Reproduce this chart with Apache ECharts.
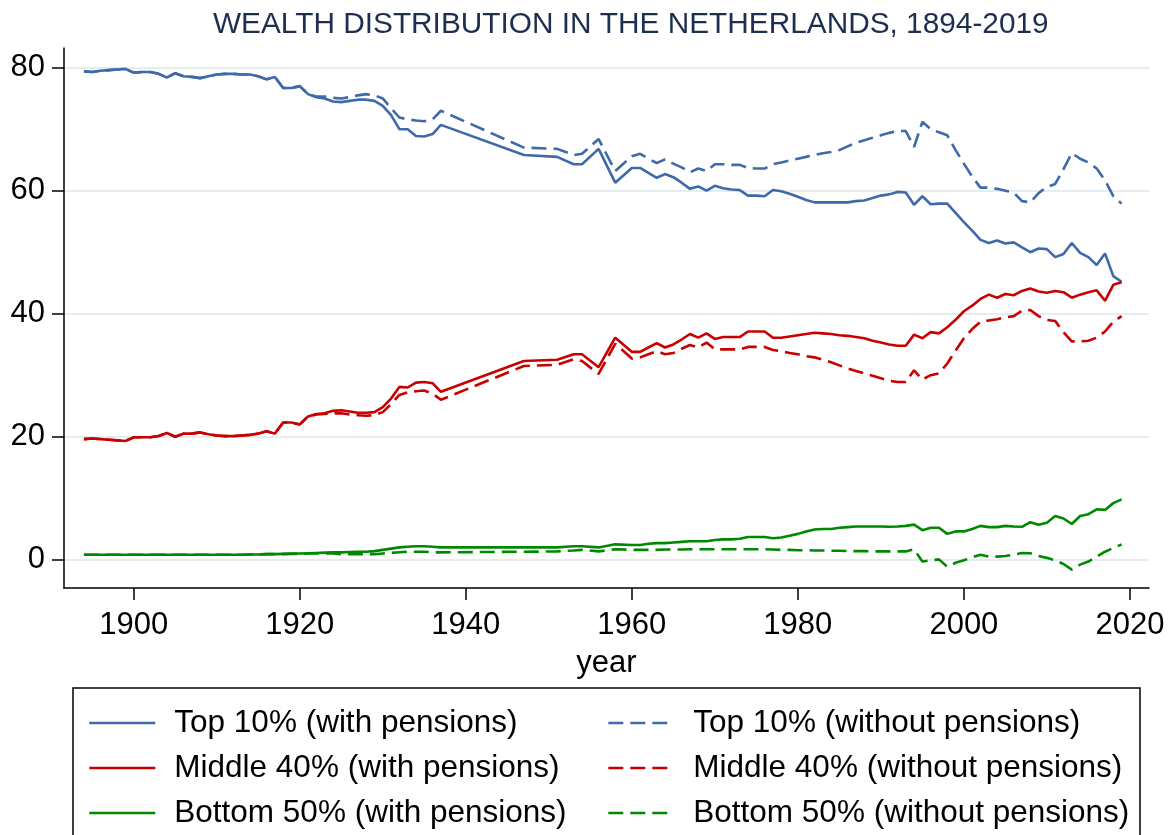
<!DOCTYPE html>
<html>
<head>
<meta charset="utf-8">
<title>Wealth distribution in the Netherlands</title>
<script src="https://cdn.jsdelivr.net/npm/echarts@6/dist/echarts.min.js"></script>
<style>
  html, body { margin: 0; padding: 0; background: #fff; }
  #main { width: 1172px; height: 835px; }
</style>
</head>
<body>
<div id="main"></div>
<script>
// years with observations (gap 1937-1947 is drawn as a straight line)
const years = [
  1894,1895,1896,1897,1898,1899,1900,1901,1902,1903,
  1904,1905,1906,1907,1908,1909,1910,1911,1912,1913,
  1914,1915,1916,1917,1918,1919,1920,1921,1922,1923,
  1924,1925,1926,1927,1928,1929,1930,1931,1932,1933,
  1934,1935,1936,1937,
  1947,1951,1953,1954,1956,1958,
  1960,1961,1962,1963,1964,1965,1966,1967,1968,1969,
  1970,1971,1972,1973,1974,1975,1976,1977,1978,1979,
  1980,1981,1982,1983,1984,1985,1986,1987,1988,1989,
  1990,1991,1992,1993,1994,1995,1996,1997,1998,1999,
  2000,2001,2002,2003,2004,2005,2006,2007,2008,2009,
  2010,2011,2012,2013,2014,2015,2016,2017,2018,2019
]

const top10With = [
  79.4,79.3,79.5,79.6,79.7,79.8,79.2,79.3,79.3,79.0,
  78.4,79.1,78.6,78.5,78.3,78.6,78.9,79.0,79.0,78.9,
  78.9,78.6,78.1,78.5,76.7,76.7,77.0,75.7,75.2,75.0,
  74.5,74.4,74.6,74.8,74.8,74.6,73.8,72.3,70.0,70.0,
  68.9,68.8,69.2,70.7,
  65.8,65.5,64.3,64.3,66.8,61.3,
  63.7,63.7,62.9,62.1,62.7,62.2,61.3,60.3,60.7,60.0,
  60.8,60.4,60.2,60.1,59.2,59.2,59.1,60.1,59.9,59.5,
  59.0,58.5,58.1,58.1,58.1,58.1,58.1,58.3,58.4,58.8,
  59.2,59.4,59.8,59.7,57.7,59.1,57.8,57.9,57.9,56.4,
  54.9,53.5,52.0,51.5,51.9,51.4,51.6,50.8,50.0,50.6,
  50.5,49.2,49.7,51.5,49.9,49.2,47.9,49.8,46.1,45.2
]
const top10Without = [
  79.4,79.3,79.5,79.6,79.7,79.8,79.2,79.3,79.3,79.0,
  78.4,79.1,78.6,78.5,78.3,78.6,78.9,79.0,79.0,78.9,
  78.9,78.6,78.1,78.5,76.7,76.7,77.0,75.7,75.3,75.3,
  75.1,75.0,75.2,75.5,75.7,75.5,75.0,73.4,71.9,71.6,
  71.4,71.3,71.6,73.0,
  67.0,66.8,65.8,66.0,68.4,63.2,
  65.6,66.0,65.2,64.5,65.1,64.4,63.8,63.0,63.6,63.2,
  64.3,64.3,64.2,64.2,63.7,63.6,63.6,64.3,64.6,64.9,
  65.2,65.5,65.8,66.1,66.3,66.6,67.2,67.8,68.2,68.6,
  69.0,69.4,69.7,69.7,67.1,71.2,70.0,69.5,69.0,66.6,
  64.4,62.3,60.5,60.5,60.3,60.0,59.7,58.3,58.1,59.6,
  60.6,61.1,63.5,66.1,65.2,64.6,63.6,61.7,59.1,57.9
]
const mid40With = [
  19.6,19.7,19.6,19.5,19.4,19.3,19.9,19.9,19.9,20.1,
  20.6,20.0,20.5,20.5,20.7,20.4,20.2,20.1,20.1,20.2,
  20.3,20.5,20.9,20.5,22.3,22.3,22.0,23.3,23.7,23.8,
  24.2,24.3,24.1,23.9,23.9,24.0,24.8,26.2,28.1,28.0,
  28.8,28.9,28.7,27.3,
  32.3,32.5,33.4,33.4,31.3,36.1,
  33.8,33.8,34.5,35.2,34.5,35.0,35.8,36.7,36.1,36.8,
  35.9,36.2,36.2,36.2,37.1,37.1,37.1,36.1,36.1,36.3,
  36.5,36.7,36.9,36.8,36.7,36.5,36.4,36.2,36.0,35.6,
  35.3,35.0,34.8,34.8,36.6,36.0,37.0,36.8,37.8,39.0,
  40.4,41.3,42.4,43.1,42.6,43.2,43.0,43.7,44.1,43.6,
  43.4,43.7,43.5,42.6,43.1,43.5,43.8,42.1,44.7,45.1
]
const mid40Without = [
  19.6,19.7,19.6,19.5,19.4,19.3,19.9,19.9,19.9,20.1,
  20.6,20.0,20.5,20.5,20.7,20.4,20.2,20.1,20.1,20.2,
  20.3,20.5,20.9,20.5,22.3,22.3,22.0,23.3,23.6,23.7,
  23.8,23.8,23.6,23.5,23.4,23.5,24.0,25.3,26.8,27.2,
  27.4,27.5,27.0,26.0,
  31.5,31.7,32.6,32.3,30.2,35.1,
  32.7,32.9,33.4,33.9,33.4,33.6,34.3,34.9,34.5,35.3,
  34.2,34.2,34.2,34.2,34.6,34.6,34.6,34.1,33.9,33.6,
  33.4,33.1,32.9,32.5,32.1,31.6,31.1,30.7,30.3,29.9,
  29.5,29.1,28.9,28.9,30.8,29.3,30.0,30.3,31.9,34.0,
  36.0,37.5,38.7,38.9,39.1,39.4,39.6,40.5,40.6,39.6,
  39.0,38.8,37.0,35.5,35.5,35.6,36.1,37.1,38.7,39.6
]
const bot50With = [
  0.8,0.8,0.8,0.8,0.8,0.8,0.8,0.8,0.8,0.8,
  0.8,0.8,0.8,0.8,0.8,0.8,0.8,0.8,0.8,0.8,
  0.85,0.85,0.9,0.9,0.95,1.0,1.0,1.05,1.1,1.15,
  1.2,1.2,1.25,1.3,1.3,1.4,1.6,1.8,2.0,2.1,
  2.2,2.2,2.1,2.0,
  2.0,2.0,2.2,2.2,2.0,2.5,
  2.4,2.4,2.6,2.7,2.7,2.8,2.9,3.0,3.0,3.0,
  3.2,3.3,3.3,3.4,3.7,3.7,3.7,3.5,3.6,3.9,
  4.2,4.6,4.9,5.0,5.0,5.2,5.3,5.4,5.4,5.4,
  5.4,5.35,5.4,5.5,5.7,4.8,5.2,5.2,4.2,4.6,
  4.6,5.0,5.5,5.3,5.3,5.5,5.4,5.35,6.1,5.7,
  6.0,7.1,6.7,5.8,7.1,7.4,8.2,8.1,9.2,9.8
]
const bot50Without = [
  0.8,0.8,0.8,0.8,0.8,0.8,0.8,0.8,0.8,0.8,
  0.8,0.8,0.8,0.8,0.8,0.8,0.8,0.8,0.8,0.8,
  0.85,0.85,0.9,0.9,0.9,0.95,0.95,1.0,1.0,1.0,
  1.0,0.9,0.9,0.9,0.9,0.9,1.0,1.1,1.2,1.3,
  1.3,1.3,1.2,1.2,
  1.3,1.35,1.5,1.6,1.35,1.7,
  1.6,1.6,1.6,1.6,1.65,1.65,1.65,1.7,1.7,1.7,
  1.7,1.7,1.7,1.7,1.7,1.7,1.7,1.65,1.6,1.6,
  1.55,1.55,1.5,1.5,1.45,1.45,1.4,1.4,1.4,1.35,
  1.35,1.35,1.35,1.35,1.7,-0.3,-0.1,0.05,-1.15,-0.5,
  -0.1,0.4,0.8,0.5,0.5,0.6,0.8,1.1,1.05,0.6,
  0.3,-0.1,-0.7,-1.6,-0.8,-0.3,0.5,1.3,1.9,2.5
]

const xTicks = [1900, 1920, 1940, 1960, 1980, 2000, 2020]
const yTicks = [0, 20, 40, 60, 80]

const FONT = '"Liberation Sans", Arial, Helvetica, sans-serif'
const BLUE = '#3f6aa9'
const RED = '#c80000'
const GREEN = '#008800'
const DASH = [15, 7]

function pairs(vals){
    return years.map((y, i) => [y, vals[i]])
}
function mkSeries(name, vals, color, dashed){
    return {
        name: name,
        type: 'line',
        data: pairs(vals),
        symbol: 'none',
        showSymbol: false,
        clip: false,
        lineStyle: {color: color, width: 2.6, type: dashed ? DASH : 'solid'},
        itemStyle: {color: color},
        emphasis: {disabled: true}
    }
}

const legendCommon = {
    orient: 'vertical',
    top: 707,
    padding: 0,
    itemWidth: 66,
    itemHeight: 30,
    itemGap: 13,
    selectedMode: false,
    itemStyle: {opacity: 0},
    lineStyle: {width: 2.6},
    textStyle: {fontFamily: FONT, fontSize: 31.5, lineHeight: 30, color: '#000', padding: [0, 0, 0, 14]}
}

let chart = echarts.init(document.getElementById('main'))
chart.setOption({
    animation: false,
    backgroundColor: '#fff',
    title: {
        text: 'WEALTH DISTRIBUTION IN THE NETHERLANDS, 1894-2019',
        left: 208,
        top: 5,
        textStyle: {fontFamily: FONT, fontSize: 29.8, fontWeight: 'normal', color: '#1e2e50'}
    },
    grid: {left: 64, right: 23, top: 48, bottom: 247, containLabel: false, outerBoundsMode: 'none'},
    xAxis: {
        type: 'value',
        min: 1891.6,
        max: 2022.3,
        name: 'year',
        nameLocation: 'middle',
        nameGap: 60,
        nameTextStyle: {fontFamily: FONT, fontSize: 31, color: '#000'},
        axisLine: {show: true, onZero: false, lineStyle: {color: '#000', width: 1.5}},
        axisTick: {show: true, customValues: xTicks, length: 12, lineStyle: {color: '#000', width: 1.5}},
        axisLabel: {
            customValues: xTicks, fontFamily: FONT, fontSize: 31, color: '#000', margin: 22,
            formatter: v => String(v)
        },
        splitLine: {show: false}
    },
    yAxis: {
        type: 'value',
        min: -4.6,
        max: 83.2,
        axisLine: {show: true, onZero: false, lineStyle: {color: '#000', width: 1.5}},
        axisTick: {show: true, customValues: yTicks, length: 12, lineStyle: {color: '#000', width: 1.5}},
        axisLabel: {
            customValues: yTicks, fontFamily: FONT, fontSize: 31, color: '#000', margin: 19,
            formatter: v => String(v)
        },
        splitLine: {show: true, lineStyle: {color: '#e4edf0', width: 2}}
    },
    legend: [
        Object.assign({}, legendCommon, {
            left: 88,
            data: ['Top 10% (with pensions)', 'Middle 40% (with pensions)', 'Bottom 50% (with pensions)']
        }),
        Object.assign({}, legendCommon, {
            left: 607,
            data: ['Top 10% (without pensions)', 'Middle 40% (without pensions)', 'Bottom 50% (without pensions)']
        })
    ],
    graphic: [{
        type: 'rect',
        silent: true,
        shape: {x: 73, y: 688, width: 1067, height: 170},
        style: {fill: 'none', stroke: '#000', lineWidth: 1.5}
    }],
    series: [
        mkSeries('Top 10% (with pensions)', top10With, BLUE, false),
        mkSeries('Top 10% (without pensions)', top10Without, BLUE, true),
        mkSeries('Middle 40% (with pensions)', mid40With, RED, false),
        mkSeries('Middle 40% (without pensions)', mid40Without, RED, true),
        mkSeries('Bottom 50% (with pensions)', bot50With, GREEN, false),
        mkSeries('Bottom 50% (without pensions)', bot50Without, GREEN, true)
    ]
})
</script>
</body>
</html>
